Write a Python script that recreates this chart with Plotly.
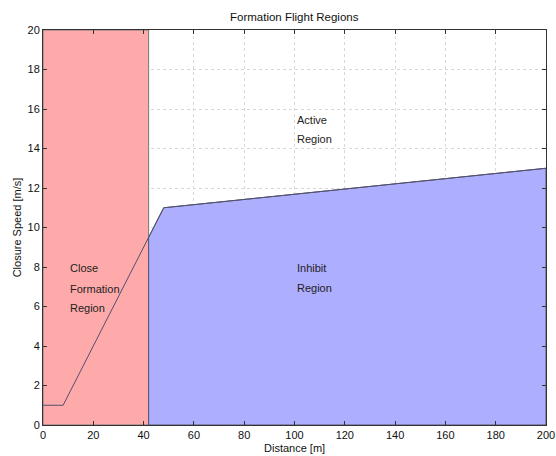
import numpy as np
import plotly.graph_objects as go

# Data
curve_x = [0, 8, 48, 200]          # Distance [m]
curve_y = [1, 1, 11, 13]           # Closure speed boundary [m/s]
close_limit = 42                   # Close formation region upper distance
y_max = 20
x_ticks = list(range(0, 201, 20))
y_ticks = list(range(0, 21, 2))

labels = [
    ("Close", 10, 7.97), ("Formation", 10, 6.91), ("Region", 10, 5.93),
    ("Active", 100, 15.45), ("Region", 100, 14.48),
    ("Inhibit", 100, 7.97), ("Region", 100, 6.96),
]

# Blue inhibit polygon: from close_limit along the curve to the end, down to 0
y_at_limit = float(np.interp(close_limit, curve_x, curve_y))
bx = [close_limit, close_limit] + [x for x in curve_x if x > close_limit] + [curve_x[-1]]
by = [0, y_at_limit] + [y for x, y in zip(curve_x, curve_y) if x > close_limit] + [0]

fig = go.Figure()
fig.add_trace(go.Scatter(
    x=[0, close_limit, close_limit, 0, 0], y=[0, 0, y_max, y_max, 0],
    fill="toself", fillcolor="#FFAAAA", mode="lines",
    line=dict(color="#777777", width=1), hoverinfo="skip", showlegend=False))
fig.add_trace(go.Scatter(
    x=bx + [bx[0]], y=by + [by[0]],
    fill="toself", fillcolor="#AEAEFF", mode="lines",
    line=dict(color="#555566", width=1), hoverinfo="skip", showlegend=False))
fig.add_trace(go.Scatter(
    x=curve_x, y=curve_y, mode="lines",
    line=dict(color="#505070", width=1), hoverinfo="skip", showlegend=False))

for text, x, y in labels:
    fig.add_annotation(x=x, y=y, text=text, showarrow=False,
                       xanchor="left", yanchor="middle", align="left",
                       font=dict(size=11, color="#222222"))

# Axis titles and chart title as paper annotations
fig.add_annotation(x=0.5, y=-0.038, xref="paper", yref="paper", text="Distance [m]",
                   showarrow=False, xanchor="center", yanchor="top",
                   font=dict(size=11, color="#111111"))
fig.add_annotation(x=-0.052, y=0.5, xref="paper", yref="paper", text="Closure Speed [m/s]",
                   showarrow=False, xanchor="center", yanchor="middle", textangle=-90,
                   font=dict(size=11, color="#111111"))
fig.add_annotation(x=0.5, y=1.0, xref="paper", yref="paper", text="Formation Flight Regions",
                   showarrow=False, xanchor="center", yanchor="bottom", yshift=5,
                   font=dict(size=11.5, color="#111111"))

axis_common = dict(
    showgrid=True, gridcolor="#D8D8D8", griddash="dot", gridwidth=1,
    showline=True, linecolor="#333333", linewidth=1, mirror="ticks",
    ticks="inside", ticklen=4, tickcolor="#333333", automargin=False,
    zeroline=False, tickfont=dict(size=11, color="#111111"),
)
fig.update_xaxes(range=[0, 200], tickvals=x_ticks, **axis_common)
fig.update_yaxes(range=[0, 20], tickvals=y_ticks, **axis_common)

fig.update_layout(
    width=556, height=456,
    margin=dict(l=43, r=10, t=30, b=31),
    paper_bgcolor="white", plot_bgcolor="white",
    font=dict(family="Liberation Sans, Arial, sans-serif"),
)

fig.write_html("out.html", config={"displayModeBar": False},
               post_script="document.body.style.margin='0';document.body.style.overflow='hidden';")
